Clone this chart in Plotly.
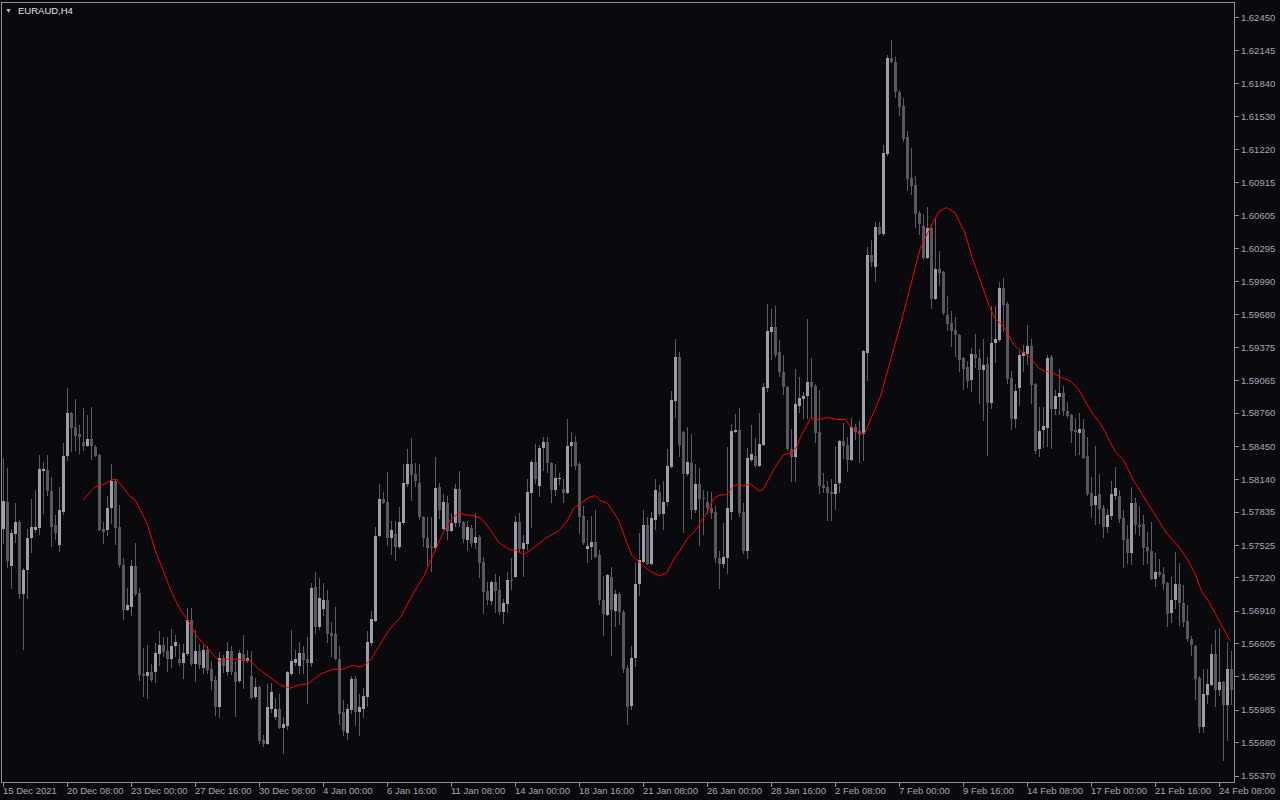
import plotly.graph_objects as go

# ---------------- data (EURAUD H4) ----------------
opens = [
    1.5768, 1.5793, 1.5733, 1.5763, 1.5774, 1.5707, 1.5729, 1.5759, 1.5767, 1.5769,
    1.5822, 1.5823, 1.5803, 1.5771, 1.5753, 1.5784, 1.5836, 1.5876, 1.5863, 1.5856,
    1.5849, 1.5845, 1.5852, 1.5844, 1.5837, 1.5768, 1.5767, 1.5787, 1.5813, 1.5770,
    1.5734, 1.5692, 1.5695, 1.5733, 1.5708, 1.5632, 1.5630, 1.5634, 1.5634, 1.5651,
    1.5659, 1.5654, 1.5646, 1.5658, 1.5646, 1.5643, 1.5651, 1.5683, 1.5642, 1.5654,
    1.5638, 1.5655, 1.5637, 1.5627, 1.5601, 1.5647, 1.5634, 1.5654, 1.5634, 1.5626,
    1.5651, 1.5644, 1.5630, 1.5611, 1.5620, 1.5571, 1.5567, 1.5600, 1.5592, 1.5600,
    1.5582, 1.5584, 1.5632, 1.5643, 1.5640, 1.5652, 1.5646, 1.5643, 1.5714, 1.5676,
    1.5693, 1.5701, 1.5671, 1.5670, 1.5646, 1.5597, 1.5577, 1.5599, 1.5628, 1.5597,
    1.5600, 1.5611, 1.5661, 1.5682, 1.5761, 1.5796, 1.5793, 1.5759, 1.5763, 1.5751,
    1.5773, 1.5810, 1.5828, 1.5819, 1.5811, 1.5779, 1.5759, 1.5751, 1.5750, 1.5807,
    1.5768, 1.5792, 1.5766, 1.5773, 1.5805, 1.5774, 1.5757, 1.5769, 1.5755, 1.5760,
    1.5737, 1.5710, 1.5700, 1.5718, 1.5711, 1.5690, 1.5698, 1.5720, 1.5723, 1.5774,
    1.5749, 1.5754, 1.5801, 1.5830, 1.5808, 1.5843, 1.5849, 1.5829, 1.5804, 1.5814,
    1.5805, 1.5801, 1.5845, 1.5849, 1.5828, 1.5780, 1.5749, 1.5751, 1.5756, 1.5743,
    1.5701, 1.5687, 1.5723, 1.5691, 1.5707, 1.5690, 1.5638, 1.5602, 1.5647, 1.5716,
    1.5737, 1.5771, 1.5735, 1.5776, 1.5802, 1.5782, 1.5793, 1.5826, 1.5887, 1.5928,
    1.5858, 1.5819, 1.5829, 1.5785, 1.5810, 1.5797, 1.5793, 1.5787, 1.5784, 1.5741,
    1.5735, 1.5741, 1.5784, 1.5858, 1.5860, 1.5784, 1.5747, 1.5832, 1.5836, 1.5827,
    1.5846, 1.5899, 1.5952, 1.5956, 1.5933, 1.5914, 1.5900, 1.5842, 1.5835, 1.5883,
    1.5889, 1.5892, 1.5905, 1.5901, 1.5858, 1.5809, 1.5807, 1.5802, 1.5800, 1.5811,
    1.5850, 1.5846, 1.5832, 1.5863, 1.5859, 1.5856, 1.5932, 1.6024, 1.6012, 1.6050,
    1.6043, 1.6118, 1.6208, 1.6204, 1.6176, 1.6163, 1.6134, 1.6096, 1.6089, 1.6063,
    1.6051, 1.6021, 1.6049, 1.5983, 1.6011, 1.6008, 1.5968, 1.5960, 1.5954, 1.5949,
    1.5927, 1.5919, 1.5907, 1.5931, 1.5927, 1.5916, 1.5922, 1.5885, 1.5941, 1.5944,
    1.5993, 1.5978, 1.5909, 1.5870, 1.5899, 1.5929, 1.5931, 1.5939, 1.5903, 1.5842,
    1.5860, 1.5862, 1.5928, 1.5880, 1.5891, 1.5895, 1.5878, 1.5874, 1.5860, 1.5857,
    1.5861, 1.5836, 1.5801, 1.5790, 1.5800, 1.5787, 1.5770, 1.5780, 1.5799, 1.5799,
    1.5778, 1.5758, 1.5745, 1.5792, 1.5771, 1.5772, 1.5751, 1.5747, 1.5721, 1.5728,
    1.5726, 1.5717, 1.5689, 1.5701, 1.5716, 1.5699, 1.5682, 1.5665, 1.5658, 1.5629,
    1.5583, 1.5613, 1.5622, 1.5651, 1.5617, 1.5625, 1.5603, 1.5637,
]

highs = [
    1.5834, 1.5825, 1.5768, 1.5792, 1.5776, 1.5731, 1.5768, 1.5796, 1.5804, 1.5837,
    1.5830, 1.5837, 1.5816, 1.5781, 1.5807, 1.5848, 1.5899, 1.5877, 1.5889, 1.5865,
    1.5881, 1.5874, 1.5882, 1.5846, 1.5838, 1.5774, 1.5799, 1.5828, 1.5814, 1.5790,
    1.5741, 1.5713, 1.5739, 1.5755, 1.5713, 1.5657, 1.5659, 1.5642, 1.5661, 1.5672,
    1.5667, 1.5667, 1.5674, 1.5669, 1.5660, 1.5660, 1.5694, 1.5694, 1.5673, 1.5660,
    1.5659, 1.5658, 1.5644, 1.5630, 1.5653, 1.5650, 1.5662, 1.5658, 1.5644, 1.5655,
    1.5669, 1.5655, 1.5654, 1.5629, 1.5621, 1.5575, 1.5623, 1.5624, 1.5610, 1.5614,
    1.5592, 1.5635, 1.5673, 1.5655, 1.5662, 1.5658, 1.5667, 1.5717, 1.5728, 1.5722,
    1.5717, 1.5711, 1.5681, 1.5695, 1.5658, 1.5608, 1.5604, 1.5630, 1.5630, 1.5614,
    1.5619, 1.5672, 1.5691, 1.5770, 1.5810, 1.5802, 1.5821, 1.5775, 1.5775, 1.5788,
    1.5828, 1.5842, 1.5853, 1.5829, 1.5828, 1.5780, 1.5779, 1.5779, 1.5835, 1.5811,
    1.5800, 1.5799, 1.5783, 1.5810, 1.5822, 1.5775, 1.5775, 1.5771, 1.5783, 1.5762,
    1.5742, 1.5718, 1.5719, 1.5726, 1.5724, 1.5702, 1.5728, 1.5741, 1.5780, 1.5783,
    1.5762, 1.5814, 1.5832, 1.5847, 1.5846, 1.5854, 1.5854, 1.5830, 1.5828, 1.5820,
    1.5814, 1.5870, 1.5858, 1.5855, 1.5830, 1.5789, 1.5776, 1.5780, 1.5785, 1.5748,
    1.5724, 1.5726, 1.5732, 1.5711, 1.5709, 1.5692, 1.5641, 1.5658, 1.5736, 1.5764,
    1.5785, 1.5779, 1.5784, 1.5814, 1.5809, 1.5813, 1.5842, 1.5897, 1.5945, 1.5933,
    1.5859, 1.5863, 1.5856, 1.5828, 1.5825, 1.5804, 1.5803, 1.5802, 1.5789, 1.5747,
    1.5773, 1.5844, 1.5866, 1.5875, 1.5881, 1.5792, 1.5843, 1.5865, 1.5853, 1.5876,
    1.5904, 1.5978, 1.5973, 1.5976, 1.5944, 1.5930, 1.5901, 1.5861, 1.5917, 1.5910,
    1.5896, 1.5964, 1.5927, 1.5903, 1.5898, 1.5820, 1.5813, 1.5814, 1.5845, 1.5851,
    1.5867, 1.5854, 1.5871, 1.5866, 1.5869, 1.5935, 1.6031, 1.6038, 1.6054, 1.6054,
    1.6126, 1.6210, 1.6224, 1.6209, 1.6178, 1.6170, 1.6139, 1.6124, 1.6097, 1.6065,
    1.6062, 1.6068, 1.6053, 1.6057, 1.6027, 1.6009, 1.5985, 1.5971, 1.5966, 1.5950,
    1.5928, 1.5925, 1.5937, 1.5950, 1.5936, 1.5945, 1.5928, 1.5976, 1.5976, 1.5998,
    1.6002, 1.5980, 1.5915, 1.5903, 1.5934, 1.5940, 1.5958, 1.5945, 1.5904, 1.5882,
    1.5882, 1.5930, 1.5930, 1.5898, 1.5917, 1.5901, 1.5886, 1.5875, 1.5871, 1.5876,
    1.5870, 1.5854, 1.5816, 1.5845, 1.5819, 1.5790, 1.5786, 1.5813, 1.5826, 1.5804,
    1.5785, 1.5771, 1.5807, 1.5797, 1.5789, 1.5781, 1.5765, 1.5774, 1.5745, 1.5740,
    1.5732, 1.5718, 1.5723, 1.5746, 1.5736, 1.5715, 1.5697, 1.5668, 1.5659, 1.5630,
    1.5637, 1.5637, 1.5660, 1.5673, 1.5675, 1.5626, 1.5662, 1.5654,
]

lows = [
    1.5754, 1.5731, 1.5712, 1.5755, 1.5702, 1.5655, 1.5702, 1.5745, 1.5764, 1.5762,
    1.5782, 1.5799, 1.5751, 1.5757, 1.5746, 1.5781, 1.5831, 1.5840, 1.5841, 1.5838,
    1.5841, 1.5844, 1.5832, 1.5835, 1.5766, 1.5754, 1.5761, 1.5772, 1.5753, 1.5732,
    1.5683, 1.5691, 1.5686, 1.5705, 1.5626, 1.5611, 1.5609, 1.5625, 1.5624, 1.5640,
    1.5648, 1.5634, 1.5638, 1.5648, 1.5640, 1.5628, 1.5649, 1.5640, 1.5625, 1.5637,
    1.5632, 1.5632, 1.5617, 1.5593, 1.5591, 1.5633, 1.5630, 1.5631, 1.5592, 1.5624,
    1.5618, 1.5643, 1.5609, 1.5609, 1.5567, 1.5564, 1.5566, 1.5596, 1.5589, 1.5581,
    1.5558, 1.5580, 1.5630, 1.5640, 1.5632, 1.5632, 1.5604, 1.5639, 1.5670, 1.5673,
    1.5686, 1.5661, 1.5648, 1.5645, 1.5585, 1.5574, 1.5571, 1.5595, 1.5584, 1.5574,
    1.5591, 1.5601, 1.5658, 1.5681, 1.5760, 1.5791, 1.5752, 1.5743, 1.5738, 1.5749,
    1.5771, 1.5807, 1.5794, 1.5807, 1.5776, 1.5751, 1.5733, 1.5728, 1.5747, 1.5777,
    1.5767, 1.5757, 1.5765, 1.5770, 1.5770, 1.5755, 1.5747, 1.5751, 1.5749, 1.5722,
    1.5688, 1.5697, 1.5697, 1.5689, 1.5687, 1.5679, 1.5689, 1.5711, 1.5722, 1.5745,
    1.5723, 1.5748, 1.5769, 1.5810, 1.5798, 1.5822, 1.5820, 1.5792, 1.5799, 1.5809,
    1.5792, 1.5800, 1.5826, 1.5823, 1.5763, 1.5753, 1.5736, 1.5739, 1.5741, 1.5697,
    1.5668, 1.5686, 1.5649, 1.5676, 1.5678, 1.5633, 1.5585, 1.5599, 1.5639, 1.5705,
    1.5736, 1.5734, 1.5734, 1.5767, 1.5780, 1.5767, 1.5789, 1.5825, 1.5871, 1.5835,
    1.5764, 1.5817, 1.5777, 1.5783, 1.5752, 1.5762, 1.5782, 1.5777, 1.5736, 1.5712,
    1.5731, 1.5726, 1.5776, 1.5857, 1.5779, 1.5744, 1.5740, 1.5830, 1.5826, 1.5826,
    1.5845, 1.5896, 1.5926, 1.5927, 1.5910, 1.5893, 1.5841, 1.5812, 1.5812, 1.5876,
    1.5870, 1.5870, 1.5870, 1.5848, 1.5800, 1.5801, 1.5775, 1.5775, 1.5785, 1.5801,
    1.5833, 1.5821, 1.5831, 1.5851, 1.5829, 1.5831, 1.5906, 1.6012, 1.5998, 1.6042,
    1.6041, 1.6116, 1.6203, 1.6170, 1.6153, 1.6129, 1.6083, 1.6080, 1.6049, 1.6042,
    1.6020, 1.6020, 1.5973, 1.5982, 1.5995, 1.5968, 1.5953, 1.5938, 1.5928, 1.5914,
    1.5898, 1.5899, 1.5896, 1.5918, 1.5884, 1.5869, 1.5836, 1.5880, 1.5923, 1.5942,
    1.5952, 1.5903, 1.5860, 1.5862, 1.5883, 1.5914, 1.5921, 1.5884, 1.5838, 1.5835,
    1.5843, 1.5844, 1.5842, 1.5874, 1.5874, 1.5873, 1.5871, 1.5848, 1.5836, 1.5837,
    1.5833, 1.5799, 1.5778, 1.5771, 1.5772, 1.5759, 1.5764, 1.5776, 1.5795, 1.5773,
    1.5731, 1.5735, 1.5734, 1.5763, 1.5761, 1.5734, 1.5735, 1.5720, 1.5714, 1.5723,
    1.5711, 1.5676, 1.5680, 1.5693, 1.5677, 1.5676, 1.5662, 1.5649, 1.5608, 1.5577,
    1.5577, 1.5604, 1.5621, 1.5601, 1.5612, 1.5551, 1.5570, 1.5603,
]

closes = [
    1.5794, 1.5738, 1.5764, 1.5774, 1.5707, 1.5729, 1.5759, 1.5770, 1.5770, 1.5824,
    1.5824, 1.5803, 1.5770, 1.5764, 1.5785, 1.5836, 1.5876, 1.5862, 1.5855, 1.5854,
    1.5845, 1.5852, 1.5845, 1.5836, 1.5767, 1.5765, 1.5787, 1.5813, 1.5769, 1.5734,
    1.5692, 1.5697, 1.5733, 1.5707, 1.5631, 1.5630, 1.5634, 1.5627, 1.5652, 1.5659,
    1.5653, 1.5646, 1.5658, 1.5662, 1.5643, 1.5652, 1.5683, 1.5642, 1.5654, 1.5641,
    1.5655, 1.5636, 1.5626, 1.5601, 1.5647, 1.5640, 1.5654, 1.5634, 1.5625, 1.5652,
    1.5644, 1.5647, 1.5610, 1.5620, 1.5570, 1.5567, 1.5601, 1.5615, 1.5600, 1.5582,
    1.5586, 1.5634, 1.5644, 1.5646, 1.5652, 1.5645, 1.5643, 1.5713, 1.5676, 1.5703,
    1.5701, 1.5670, 1.5668, 1.5646, 1.5595, 1.5579, 1.5600, 1.5628, 1.5597, 1.5601,
    1.5612, 1.5662, 1.5684, 1.5761, 1.5796, 1.5792, 1.5759, 1.5767, 1.5751, 1.5774,
    1.5811, 1.5828, 1.5818, 1.5813, 1.5779, 1.5759, 1.5750, 1.5750, 1.5806, 1.5785,
    1.5793, 1.5766, 1.5773, 1.5805, 1.5773, 1.5758, 1.5770, 1.5755, 1.5760, 1.5736,
    1.5709, 1.5701, 1.5718, 1.5710, 1.5690, 1.5699, 1.5720, 1.5719, 1.5774, 1.5749,
    1.5755, 1.5802, 1.5830, 1.5814, 1.5843, 1.5849, 1.5829, 1.5804, 1.5815, 1.5815,
    1.5801, 1.5845, 1.5849, 1.5827, 1.5779, 1.5755, 1.5752, 1.5756, 1.5742, 1.5701,
    1.5688, 1.5725, 1.5692, 1.5707, 1.5690, 1.5637, 1.5601, 1.5647, 1.5716, 1.5739,
    1.5771, 1.5735, 1.5778, 1.5804, 1.5782, 1.5793, 1.5827, 1.5888, 1.5928, 1.5846,
    1.5819, 1.5830, 1.5785, 1.5810, 1.5796, 1.5796, 1.5787, 1.5783, 1.5741, 1.5735,
    1.5742, 1.5787, 1.5859, 1.5860, 1.5783, 1.5747, 1.5834, 1.5838, 1.5827, 1.5847,
    1.5900, 1.5953, 1.5956, 1.5930, 1.5914, 1.5900, 1.5842, 1.5835, 1.5884, 1.5890,
    1.5892, 1.5905, 1.5900, 1.5857, 1.5808, 1.5806, 1.5801, 1.5800, 1.5810, 1.5850,
    1.5845, 1.5832, 1.5863, 1.5858, 1.5856, 1.5934, 1.6024, 1.6017, 1.6050, 1.6043,
    1.6119, 1.6208, 1.6204, 1.6176, 1.6162, 1.6132, 1.6095, 1.6088, 1.6062, 1.6053,
    1.6021, 1.6049, 1.5983, 1.6011, 1.6007, 1.5969, 1.5959, 1.5953, 1.5949, 1.5926,
    1.5917, 1.5906, 1.5931, 1.5927, 1.5916, 1.5921, 1.5885, 1.5941, 1.5945, 1.5993,
    1.5977, 1.5908, 1.5870, 1.5897, 1.5930, 1.5933, 1.5939, 1.5902, 1.5841, 1.5859,
    1.5864, 1.5927, 1.5880, 1.5892, 1.5895, 1.5878, 1.5873, 1.5859, 1.5858, 1.5861,
    1.5834, 1.5800, 1.5789, 1.5799, 1.5786, 1.5770, 1.5781, 1.5800, 1.5806, 1.5777,
    1.5757, 1.5745, 1.5792, 1.5771, 1.5770, 1.5750, 1.5747, 1.5721, 1.5728, 1.5725,
    1.5716, 1.5688, 1.5701, 1.5716, 1.5699, 1.5681, 1.5665, 1.5659, 1.5628, 1.5583,
    1.5614, 1.5623, 1.5651, 1.5617, 1.5625, 1.5603, 1.5637, 1.5617,
]

# moving average (red line): bar position and value
ma_bar = [
    19.9, 22.9, 25.4, 27.1, 28.4, 31.4, 32.9, 35.9, 37.9, 40.0,
    42.1, 44.2, 46.0, 48.4, 50.4, 52.5, 54.0, 55.9, 59.2, 61.5,
    63.8, 66.7, 69.2, 71.7, 73.8, 76.0, 79.2, 82.5, 84.2, 87.1,
    89.6, 91.7, 93.8, 96.3, 99.2, 102.5, 105.0, 107.5, 109.6, 111.7,
    113.8, 115.4, 117.9, 119.6, 121.7, 123.8, 125.4, 126.7, 127.9, 130.0,
    132.5, 135.9, 138.8, 140.9, 142.5, 144.6, 146.3, 147.9, 149.2, 150.9,
    153.8, 155.9, 157.1, 159.2, 161.7, 164.0, 165.9, 167.5, 169.2, 171.0,
    173.4, 174.2, 175.9, 177.5, 178.8, 180.7, 182.9, 185.0, 186.7, 189.0,
    190.0, 192.5, 195.0, 197.1, 198.4, 199.2, 201.7, 204.2, 206.0, 208.4,
    210.4, 212.1, 214.2, 215.4, 217.1, 219.2, 221.3, 223.4, 224.2, 226.7,
    229.2, 231.7, 233.8, 235.7, 237.9, 240.4, 242.1, 244.2, 246.3, 247.9,
    249.2, 250.9, 252.5, 254.6, 256.7, 258.8, 260.4, 262.1, 264.6, 266.7,
    268.8, 270.9, 272.5, 273.9, 275.3, 277.9, 280.0, 282.5, 285.0, 287.5,
    290.9, 293.4, 295.9, 297.9, 299.6, 301.3, 303.8, 306.7,
]
ma_val = [
    1.5795, 1.5807, 1.5810, 1.5814, 1.5814, 1.5799, 1.5795, 1.5773, 1.5748, 1.5727,
    1.5708, 1.5692, 1.5683, 1.5667, 1.5659, 1.5650, 1.5644, 1.5646, 1.5646, 1.5645,
    1.5637, 1.5629, 1.5622, 1.5619, 1.5622, 1.5623, 1.5632, 1.5637, 1.5636, 1.5640,
    1.5639, 1.5645, 1.5658, 1.5673, 1.5685, 1.5708, 1.5723, 1.5745, 1.5762, 1.5776,
    1.5783, 1.5781, 1.5780, 1.5777, 1.5767, 1.5755, 1.5751, 1.5748, 1.5748, 1.5744,
    1.5750, 1.5760, 1.5766, 1.5775, 1.5787, 1.5793, 1.5797, 1.5799, 1.5794, 1.5792,
    1.5776, 1.5754, 1.5743, 1.5736, 1.5728, 1.5724, 1.5727, 1.5739, 1.5748, 1.5759,
    1.5768, 1.5774, 1.5783, 1.5796, 1.5799, 1.5800, 1.5809, 1.5808, 1.5810, 1.5803,
    1.5805, 1.5823, 1.5837, 1.5839, 1.5845, 1.5853, 1.5871, 1.5870, 1.5872, 1.5870,
    1.5870, 1.5862, 1.5856, 1.5858, 1.5873, 1.5891, 1.5919, 1.5946, 1.5958, 1.5994,
    1.6030, 1.6049, 1.6064, 1.6068, 1.6063, 1.6044, 1.6022, 1.6000, 1.5977, 1.5964,
    1.5960, 1.5952, 1.5940, 1.5933, 1.5928, 1.5918, 1.5915, 1.5914, 1.5909, 1.5906,
    1.5898, 1.5884, 1.5874, 1.5868, 1.5859, 1.5840, 1.5832, 1.5813, 1.5798, 1.5784,
    1.5763, 1.5753, 1.5740, 1.5726, 1.5709, 1.5700, 1.5683, 1.5663,
]

x_tick_bars = [0, 16, 32, 48, 64, 80, 96, 112, 128, 144,
               160, 176, 192, 208, 224, 240, 256, 272, 288, 304]
x_tick_labels = ["15 Dec 2021", "20 Dec 08:00", "23 Dec 00:00", "27 Dec 16:00",
                 "30 Dec 08:00", "4 Jan 00:00", "6 Jan 16:00", "11 Jan 08:00",
                 "14 Jan 00:00", "18 Jan 16:00", "21 Jan 08:00", "26 Jan 00:00",
                 "28 Jan 16:00", "2 Feb 08:00", "7 Feb 00:00", "9 Feb 16:00",
                 "14 Feb 08:00", "17 Feb 00:00", "21 Feb 16:00", "24 Feb 08:00"]
y_tick_values = [1.62450, 1.62145, 1.61840, 1.61530, 1.61220, 1.60915, 1.60605,
                 1.60295, 1.59990, 1.59680, 1.59375, 1.59065, 1.58760, 1.58450,
                 1.58140, 1.57835, 1.57525, 1.57220, 1.56910, 1.56605, 1.56295,
                 1.55985, 1.55680, 1.55370]

# ---------------- styling ----------------
BG = "#0a0a0e"
FRAME = "#8e8e94"
TXT = "#a4a7b6"
UP_BODY = "#9d9eab"
DN_BODY = "#58585d"
WICK = "#5d5d63"
FONT = "Liberation Sans"

n = len(closes)
bars = list(range(n))
wick_base = [min(l, o, c) for o, l, c in zip(opens, lows, closes)]
wick_len = [max(h, o, c) - min(l, o, c) for o, h, l, c in zip(opens, highs, lows, closes)]
body_base = [min(o, c) for o, c in zip(opens, closes)]
body_len = [max(abs(c - o), 0.00008) for o, c in zip(opens, closes)]
body_col = [UP_BODY if c >= o else DN_BODY for o, c in zip(opens, closes)]

fig = go.Figure()
fig.add_trace(go.Bar(x=bars, y=wick_len, base=wick_base, width=0.25,
                     marker=dict(color=WICK, line=dict(width=0)),
                     opacity=1, hoverinfo="skip"))
fig.add_trace(go.Bar(x=bars, y=body_len, base=body_base, width=0.75,
                     marker=dict(color=body_col, line=dict(width=0)),
                     opacity=1, hoverinfo="skip"))
fig.add_trace(go.Scatter(x=ma_bar, y=ma_val, mode="lines",
                         line=dict(color="#ff0000", width=1), hoverinfo="skip"))

annotations = []
for b, t in zip(x_tick_bars, x_tick_labels):
    annotations.append(dict(x=b, y=0, xref="x", yref="paper", text=t,
                            showarrow=False, xanchor="left", yanchor="top",
                            xshift=-3, yshift=-1,
                            font=dict(family=FONT, size=9.5, color=TXT)))
annotations.append(dict(x=0, y=1, xref="paper", yref="paper", text="▼",
                        showarrow=False, xanchor="left", yanchor="top",
                        xshift=1, yshift=-2,
                        font=dict(family=FONT, size=7, color="#b8b8c0")))
annotations.append(dict(x=0, y=1, xref="paper", yref="paper", text="EURAUD,H4",
                        showarrow=False, xanchor="left", yanchor="top",
                        xshift=14, yshift=0,
                        font=dict(family=FONT, size=9.5, color="#e2e2e8")))

fig.update_layout(
    width=1280, height=800,
    margin=dict(l=2, r=46, t=3, b=18, pad=0),
    paper_bgcolor=BG, plot_bgcolor=BG,
    barmode="overlay", bargap=0, showlegend=False,
    annotations=annotations,
    xaxis=dict(range=[-0.375, 307.625], showgrid=False, zeroline=False,
               showline=True, mirror=True, linecolor=FRAME, linewidth=1,
               tickmode="array", tickvals=x_tick_bars, showticklabels=False,
               ticks="outside", ticklen=4, tickwidth=1, tickcolor=FRAME,
               fixedrange=True),
    yaxis=dict(range=[1.55314, 1.62590], side="right", showgrid=False,
               zeroline=False, showline=True, mirror=True, linecolor=FRAME,
               linewidth=1, tickmode="array", tickvals=y_tick_values,
               ticktext=["%.5f" % v for v in y_tick_values],
               ticks="outside", ticklen=4, tickwidth=1, tickcolor=FRAME,
               tickfont=dict(family=FONT, size=9.5, color=TXT),
               fixedrange=True),
)

fig.write_html("out.html", config={"displayModeBar": False, "staticPlot": True},
               post_script="document.body.style.margin='0';document.body.style.overflow='hidden';")
